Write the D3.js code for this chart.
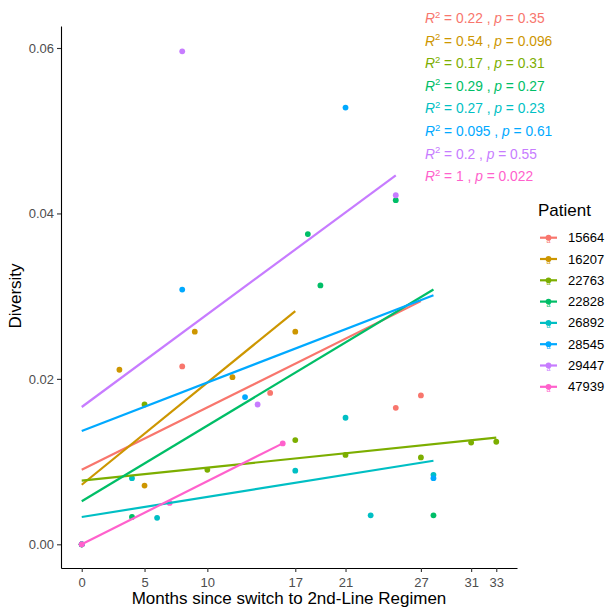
<!DOCTYPE html>
<html><head><meta charset="utf-8">
<script src="https://cdn.jsdelivr.net/npm/d3@7"></script>
<style>body{margin:0;background:#fff}svg{display:block;font-family:"Liberation Sans",Arial,sans-serif}</style>
</head><body><svg id="c" width="611" height="609"></svg>
<script>
const patients = ["15664","16207","22763","22828","26892","28545","29447","47939"];
const colors = ["#F8766D","#CD9600","#7CAE00","#00BE67","#00BFC4","#00A9FF","#C77CFF","#FF61CC"];
// observed points per patient: months, diversity
const months = [
  [0, 8, 15, 25, 27],
  [0, 3, 5, 9, 12, 17],
  [0, 5, 10, 17, 21, 27, 31, 33],
  [0, 4, 18, 19, 25, 28],
  [0, 4, 6, 17, 21, 23, 28],
  [0, 8, 13, 21, 28],
  [0, 8, 14, 25],
  [0, 7, 16]
];
const diversity = [
  [0, 0.0215, 0.0183, 0.0165, 0.0180],
  [0, 0.0211, 0.0071, 0.0257, 0.0202, 0.0257],
  [0, 0.0169, 0.0090, 0.0126, 0.0108, 0.0105, 0.0123, 0.0124],
  [0, 0.0033, 0.0375, 0.0313, 0.0416, 0.0035],
  [0, 0.0080, 0.0032, 0.0089, 0.0153, 0.0035, 0.0084],
  [0, 0.0308, 0.0178, 0.0528, 0.0080],
  [0, 0.0596, 0.0169, 0.0422],
  [0, 0.0050, 0.0122]
];
// fitted regression lines: start/end month and diversity
const fitX0 = [0, 0, 0, 0, 0, 0, 0, 0];
const fitX1 = [27, 17, 33, 28, 28, 28, 25, 16];
const fitY0 = [0.0090, 0.0072, 0.0077, 0.0052, 0.0033, 0.0137, 0.0166, 0.0000];
const fitY1 = [0.0294, 0.0282, 0.0129, 0.0308, 0.0101, 0.0301, 0.0446, 0.0122];
const r2Labels = ["0.22","0.54","0.17","0.29","0.27","0.095","0.2","1"];
const pLabels = ["0.35","0.096","0.31","0.27","0.23","0.61","0.55","0.022"];
const xTicks = [0, 5, 10, 17, 21, 27, 31, 33];
const yTicks = [0.00, 0.02, 0.04, 0.06];

const svg = d3.select("#c");
const x = d3.scaleLinear().domain([-1.65, 34.65]).range([61, 517]);
const y = d3.scaleLinear().domain([-0.002865, 0.06266]).range([568, 26]);

// axes
const xAxis = svg.append("g").attr("transform","translate(0,568)")
  .call(d3.axisBottom(x).tickValues(xTicks).tickFormat(d3.format("d")).tickSize(4).tickSizeOuter(0));
const yAxis = svg.append("g").attr("transform","translate(61,0)")
  .call(d3.axisLeft(y).tickValues(yTicks).tickFormat(d3.format(".2f")).tickSize(4).tickSizeOuter(0));
[xAxis, yAxis].forEach(a => {
  a.select(".domain").attr("stroke","#000").attr("stroke-width",1.1);
  a.selectAll(".tick line").attr("stroke","#333").attr("stroke-width",1.1);
  a.selectAll(".tick text").attr("fill","#4D4D4D").attr("font-size",13).attr("font-family","Liberation Sans, Arial, sans-serif");
});
xAxis.selectAll(".tick text").attr("dy","0.95em");

// points
patients.forEach((p,i) => {
  svg.append("g").selectAll("circle").data(months[i].map((m,j)=>[m,diversity[i][j]]))
    .join("circle").attr("cx",d=>x(d[0])).attr("cy",d=>y(d[1])).attr("r",2.9).attr("fill",colors[i]);
});
// fit lines
patients.forEach((p,i) => {
  svg.append("line").attr("x1",x(fitX0[i])).attr("y1",y(fitY0[i])).attr("x2",x(fitX1[i])).attr("y2",y(fitY1[i]))
    .attr("stroke",colors[i]).attr("stroke-width",2.2);
});

// annotations
patients.forEach((p,i) => {
  const t = svg.append("text").attr("x",425).attr("y",23 + i*22.6).attr("font-size",13.8).attr("fill",colors[i]);
  t.append("tspan").attr("font-style","italic").text("R");
  t.append("tspan").attr("font-size",9.5).attr("dy",-5.5).text("2");
  t.append("tspan").attr("dy",5.5).text(" = " + r2Labels[i] + " , ");
  t.append("tspan").attr("font-style","italic").text("p");
  t.append("tspan").text(" = " + pLabels[i]);
});

// axis titles
svg.append("text").attr("x",289).attr("y",604).attr("text-anchor","middle").attr("font-size",17).attr("fill","#000")
  .text("Months since switch to 2nd-Line Regimen");
svg.append("text").attr("transform","translate(21,296) rotate(-90)").attr("text-anchor","middle").attr("font-size",17).attr("fill","#000")
  .text("Diversity");

// legend
svg.append("text").attr("x",538).attr("y",216).attr("font-size",17).attr("fill","#000").text("Patient");
patients.forEach((p,i) => {
  const cy = 237.7 + i*21.3;
  const g = svg.append("g");
  g.append("line").attr("x1",540).attr("x2",557).attr("y1",cy).attr("y2",cy).attr("stroke",colors[i]).attr("stroke-width",2.2);
  g.append("circle").attr("cx",548.5).attr("cy",cy).attr("r",2.9).attr("fill",colors[i]);
  g.append("text").attr("x",548.5).attr("y",cy+5).attr("text-anchor","middle").attr("font-size",7).attr("fill",colors[i]).text("a");
  g.append("text").attr("x",568).attr("y",cy+4.5).attr("font-size",13).attr("fill","#000").text(p);
});
</script></body></html>
